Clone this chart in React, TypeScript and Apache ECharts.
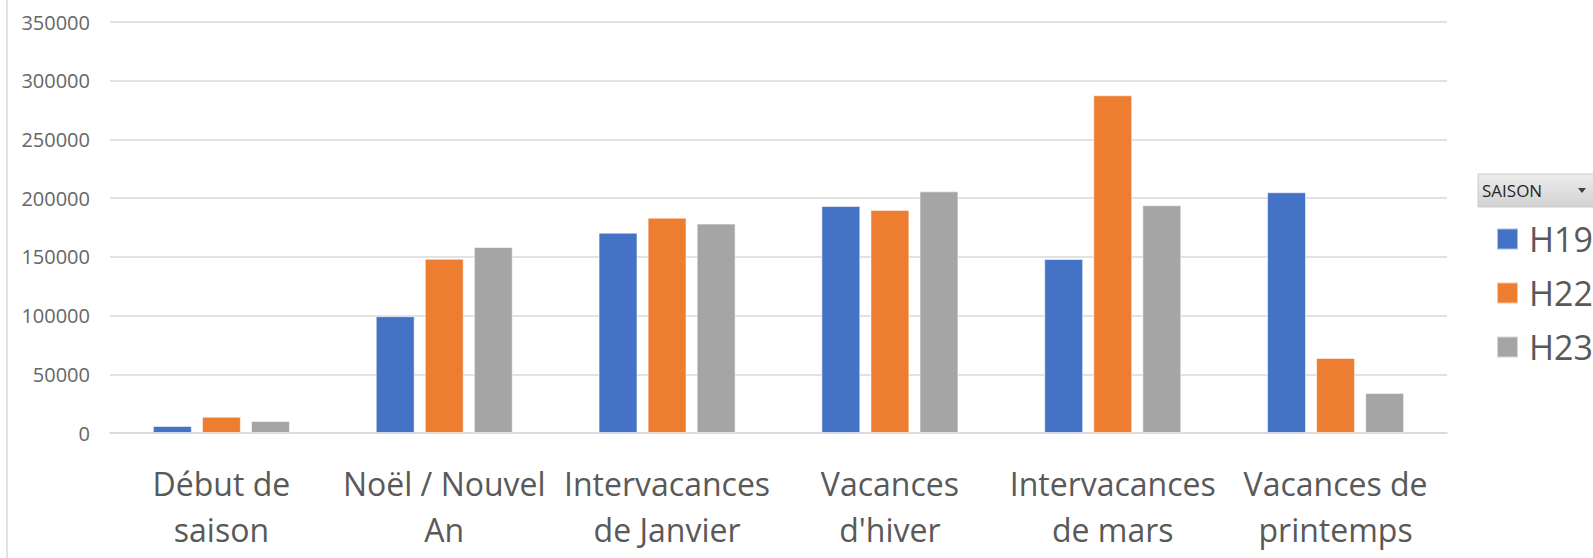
import React, { useEffect, useRef } from "react";
import * as echarts from "echarts";

const categories = [
  "Début de\nsaison",
  "Noël / Nouvel\nAn",
  "Intervacances\nde Janvier",
  "Vacances\nd'hiver",
  "Intervacances\nde mars",
  "Vacances de\nprintemps",
];
const seriesNames = ["H19", "H22", "H23"];
const h19 = [6000, 99500, 170600, 193300, 148200, 205000];
const h22 = [13900, 148400, 183400, 190000, 287600, 63900];
const h23 = [10200, 158400, 178300, 205800, 193900, 34100];
const colors = ["#4472C4", "#ED7D31", "#A5A5A5"];
const legendTitle = "SAISON";
const FONT = "'Open Sans', 'Noto Sans', sans-serif";

export default function App() {
  const ref = useRef<HTMLDivElement>(null);
  useEffect(() => {
    if (!ref.current) return;
    const chart = echarts.init(ref.current, undefined, { renderer: "svg" });
    const values = [h19, h22, h23];
    chart.setOption({
      animation: false,
      backgroundColor: "#ffffff",
      textStyle: { fontFamily: FONT },
      grid: { left: 110, right: 146, top: 22, bottom: 125, containLabel: false },
      legend: {
        orient: "vertical",
        left: 1491,
        top: 217,
        itemWidth: 21,
        itemHeight: 21,
        itemGap: 20,
        icon: "rect",
        selectedMode: false,
        textStyle: { fontFamily: FONT, fontSize: 34, color: "#595959", padding: [0, 0, 0, 6] },
        data: seriesNames,
      },
      xAxis: {
        type: "category",
        data: categories,
        axisLine: { lineStyle: { color: "#d9d9d9", width: 1.5 } },
        axisTick: { show: false },
        axisLabel: {
          interval: 0,
          color: "#595959",
          fontSize: 32,
          lineHeight: 46,
          margin: 27,
          fontFamily: FONT,
        },
      },
      yAxis: {
        type: "value",
        min: 0,
        max: 350000,
        interval: 50000,
        axisLine: { show: false },
        axisTick: { show: false },
        splitLine: { lineStyle: { color: "#d9d9d9", width: 1.5 } },
        axisLabel: {
          color: "#666666",
          fontSize: 20,
          margin: 20,
          fontFamily: FONT,
          formatter: (v: number) => String(v),
        },
      },
      series: seriesNames.map((name, i) => ({
        name,
        type: "bar",
        data: values[i],
        barGap: "26%",
        barCategoryGap: "38.5%",
        itemStyle: {
          color: colors[i],
          borderColor: "rgba(255,255,255,0.55)",
          borderWidth: 1,
        },
      })),
      graphic: [
        {
          type: "line",
          shape: { x1: 7, y1: 0, x2: 7, y2: 558 },
          style: { stroke: "#d9d9d9", lineWidth: 1.5 },
        },
        {
          type: "rect",
          shape: { x: 1478, y: 174, width: 120, height: 33 },
          style: {
            fill: new echarts.graphic.LinearGradient(0, 0, 0, 1, [
              { offset: 0, color: "#ededed" },
              { offset: 1, color: "#d2d2d2" },
            ]),
            stroke: "#cccccc",
            lineWidth: 1,
          },
        },
        {
          type: "text",
          x: 1482,
          y: 190.5,
          style: {
            text: legendTitle,
            fontFamily: FONT,
            fontSize: 17,
            fill: "#262626",
            verticalAlign: "middle",
            align: "left",
          },
        },
        {
          type: "polygon",
          shape: { points: [[1578, 188], [1586, 188], [1582, 193]] },
          style: { fill: "#404040" },
        },
      ],
    });
    return () => chart.dispose();
  }, []);
  return (
    <div
      ref={ref}
      style={{ position: "fixed", left: 0, top: 0, width: 1593, height: 558 }}
    />
  );
}
